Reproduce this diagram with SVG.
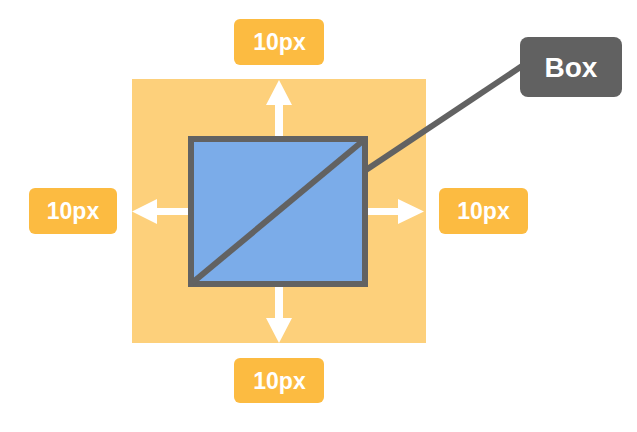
<svg xmlns="http://www.w3.org/2000/svg" width="637" height="432" viewBox="0 0 637 432">
<style>
.lbl{fill:#FCBB41}
.lt{font-family:"Liberation Sans",Arial,sans-serif;font-weight:bold;font-size:23px;fill:#fff;text-anchor:middle}
.arr{fill:#fff}
</style>
<rect width="637" height="432" fill="#fff"/>
<g id="margin"><rect x="132" y="79" width="294" height="264" fill="#FDD07B"/></g>
<g id="connectors">
<polygon class="arr" points="279,80 292,105 283,105 283,136 275,136 275,105 266,105"/>
<polygon class="arr" points="279,343 292,318 283,318 283,287 275,287 275,318 266,318"/>
<polygon class="arr" points="132,211.5 157,199 157,208 188,208 188,215 157,215 157,224"/>
<polygon class="arr" points="424,211.5 398,199 398,208 368,208 368,215 398,215 398,224"/>
<line x1="366" y1="170" x2="522" y2="66" stroke="#626262" stroke-width="6"/>
</g>
<g id="box">
<rect x="191" y="139" width="174" height="145" fill="#7BACE9" stroke="#626262" stroke-width="6"/>
<line x1="192" y1="283" x2="364" y2="140" stroke="#626262" stroke-width="6"/>
</g>
<g id="top"><rect class="lbl" x="234" y="19" width="90" height="46" rx="6"/><text class="lt" x="279.5" y="50">10px</text></g>
<g id="bottom"><rect class="lbl" x="234" y="358" width="90" height="45" rx="6"/><text class="lt" x="279.5" y="389">10px</text></g>
<g id="left"><rect class="lbl" x="29" y="188" width="88" height="46" rx="6"/><text class="lt" x="73" y="219">10px</text></g>
<g id="right"><rect class="lbl" x="439" y="188" width="89" height="46" rx="6"/><text class="lt" x="483.5" y="219">10px</text></g>
<g id="boxlabel"><rect x="520" y="37" width="102" height="60" rx="8" fill="#616161"/><text x="571" y="77" font-family="'Liberation Sans',Arial,sans-serif" font-weight="bold" font-size="28" fill="#fff" text-anchor="middle">Box</text></g>
</svg>
